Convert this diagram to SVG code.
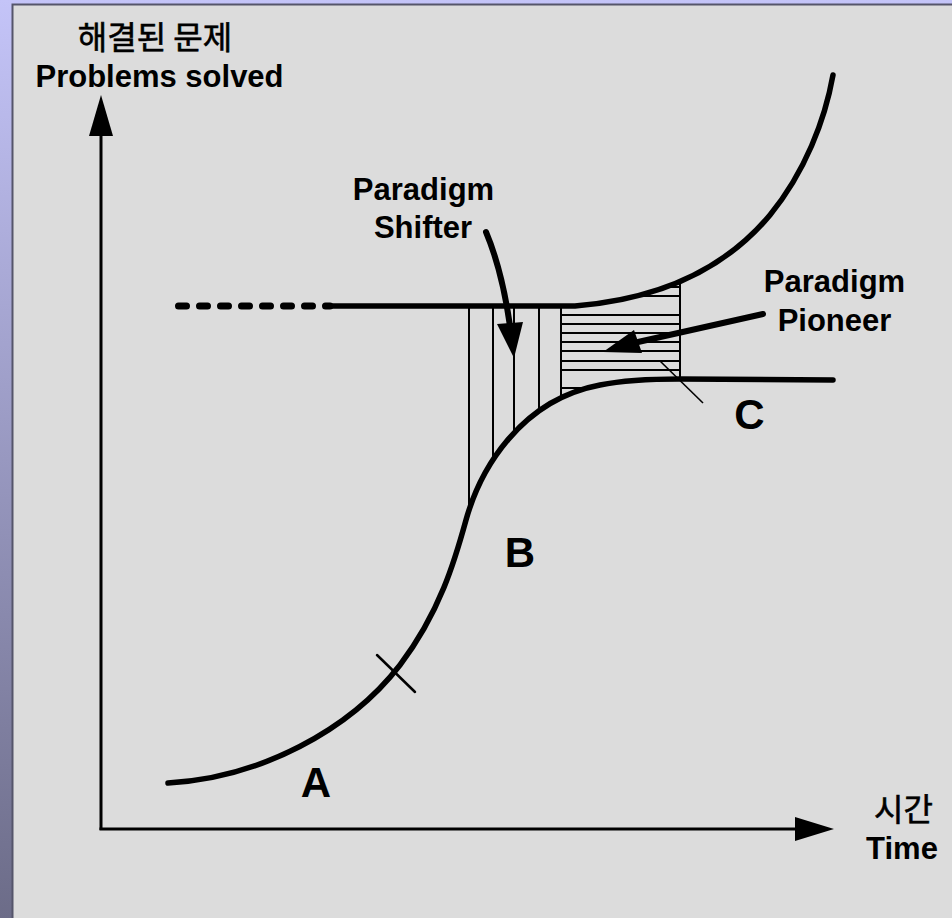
<svg xmlns="http://www.w3.org/2000/svg" width="952" height="918" viewBox="0 0 952 918">
<style>
.ax{stroke:#000;stroke-width:3;fill:none}
.crv{stroke:#000;stroke-width:5.5;fill:none;stroke-linecap:round}
.h{stroke:#000;stroke-width:2;fill:none}
.t{font-family:"Liberation Sans",Arial,sans-serif;font-weight:bold;font-size:31px;fill:#000;text-anchor:middle}
.k{font-family:"Noto Sans CJK KR","Liberation Sans",sans-serif;font-size:32px;fill:#000;stroke:#000;stroke-width:0.6;text-anchor:middle}
.big{font-family:"Liberation Sans",Arial,sans-serif;font-weight:bold;font-size:42px;fill:#000;text-anchor:middle}
</style>
<defs>
<linearGradient id="bg" x1="0" y1="0" x2="0" y2="1">
<stop offset="0" stop-color="#c4c4f8"/>
<stop offset="1" stop-color="#6c6c88"/>
</linearGradient>
<clipPath id="belowUpper"><path d="M540,306 L575,306 C650,300 720,275 770,215 L770,520 L460,520 L460,306 Z"/></clipPath>
<clipPath id="aboveLower"><path d="M460,200 L681,200 L681,379 L680,379 C640,379 620,381 600,385 C520,400 480,470 466,520 L460,520 Z"/></clipPath>
</defs>
<rect x="0" y="0" width="952" height="918" fill="url(#bg)"/>
<rect x="12" y="4" width="940" height="914" fill="#dcdcdc"/>
<path d="M12.5,918 L12.5,4.5 L952,4.5" stroke="#55556a" stroke-width="2" fill="none"/>

<g id="hatching" clip-path="url(#belowUpper)">
<g clip-path="url(#aboveLower)">
<g id="vlines">
<line class="h" x1="469" y1="306" x2="469" y2="530"/>
<line class="h" x1="493" y1="306" x2="493" y2="530"/>
<line class="h" x1="514" y1="306" x2="514" y2="530"/>
<line class="h" x1="539" y1="306" x2="539" y2="530"/>
<line class="h" x1="561" y1="270" x2="561" y2="530"/>
<line class="h" x1="680" y1="270" x2="680" y2="380"/>
</g>
<g id="hlines">
<line class="h" x1="561" y1="278" x2="680" y2="278"/>
<line class="h" x1="561" y1="287" x2="680" y2="287"/>
<line class="h" x1="561" y1="296" x2="680" y2="296"/>
<line class="h" x1="561" y1="315" x2="680" y2="315"/>
<line class="h" x1="561" y1="324" x2="680" y2="324"/>
<line class="h" x1="561" y1="333" x2="680" y2="333"/>
<line class="h" x1="561" y1="342" x2="680" y2="342"/>
<line class="h" x1="561" y1="351" x2="680" y2="351"/>
<line class="h" x1="561" y1="361" x2="680" y2="361"/>
<line class="h" x1="561" y1="370" x2="680" y2="370"/>
<line class="h" x1="561" y1="388" x2="680" y2="388"/>
</g>
</g>
</g>

<g id="axes">
<line class="ax" x1="101" y1="830" x2="101" y2="128"/>
<polygon points="101,95 89,136 113,136" fill="#000"/>
<line class="ax" x1="99.5" y1="829" x2="800" y2="829"/>
<polygon points="834,829 795,817 795,841" fill="#000"/>
</g>

<g id="connectors">
<path id="lower-curve" class="crv" d="M168,783 C260,778 350,730 400,665 C440,612 455,560 466,520 C480,470 520,400 600,385 C620,381 640,379 680,379 L833,380"/>
<path id="upper-curve" class="crv" d="M332,306 L575,306 C650,300 720,275 770,215 C805,172 825,120 833,75"/>
<line id="dashed" x1="178.5" y1="306" x2="330" y2="306" stroke="#000" stroke-width="7" stroke-linecap="round" stroke-dasharray="8 13"/>
<line id="mark-a" x1="377" y1="655" x2="415" y2="692" stroke="#000" stroke-width="2.5" stroke-linecap="round"/>
<line id="mark-c" x1="660" y1="361" x2="703" y2="403" stroke="#000" stroke-width="1.6"/>
<g id="shifter-arrow">
<path d="M486,232 Q502,270 510,326" stroke="#000" stroke-width="6" fill="none" stroke-linecap="round"/>
<polygon points="497,324 523,322 514,358" fill="#000"/>
</g>
<g id="pioneer-arrow">
<line x1="763" y1="314" x2="638" y2="342" stroke="#000" stroke-width="6" stroke-linecap="round"/>
<polygon points="603,352 634,330 642,353" fill="#000"/>
</g>
</g>

<g id="y-label">
<text class="k" x="155" y="49">해결된 문제</text>
<text class="t" x="159.5" y="87">Problems solved</text>
</g>
<g id="x-label">
<text class="k" x="903.5" y="821">시간</text>
<text class="t" x="902" y="859">Time</text>
</g>
<g id="shifter-label">
<text class="t" x="423.5" y="200">Paradigm</text>
<text class="t" x="423" y="238">Shifter</text>
</g>
<g id="pioneer-label">
<text class="t" x="834.5" y="292">Paradigm</text>
<text class="t" x="834.5" y="331">Pioneer</text>
</g>
<g id="points">
<text class="big" x="316" y="797">A</text>
<text class="big" x="520" y="567">B</text>
<text class="big" x="749.5" y="429">C</text>
</g>
</svg>
